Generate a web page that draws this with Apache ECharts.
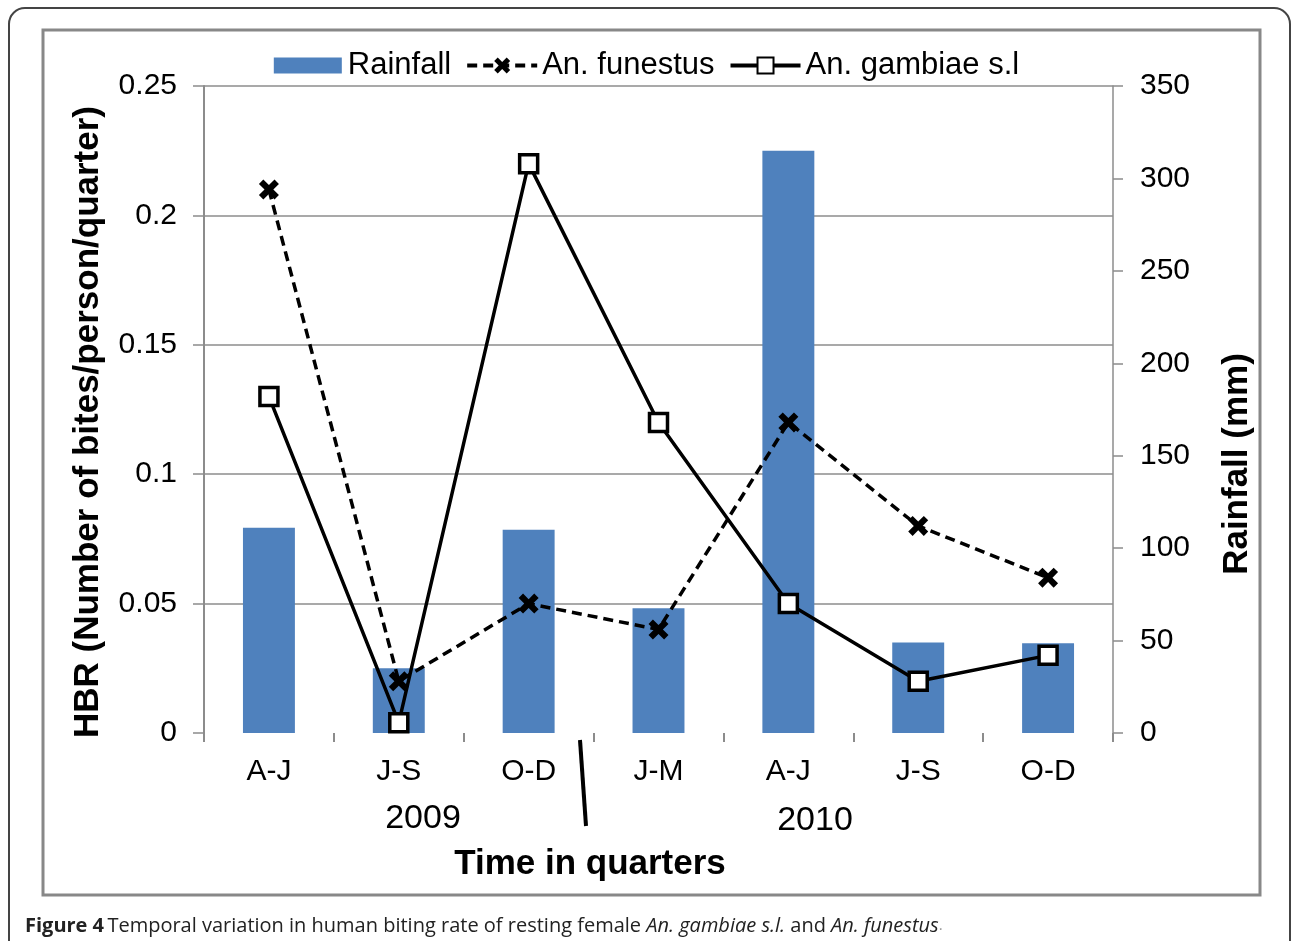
<!DOCTYPE html>
<html>
<head>
<meta charset="utf-8">
<script src="https://cdn.jsdelivr.net/npm/echarts@6/dist/echarts.min.js"></script>
<style>
html,body{margin:0;padding:0;background:#fff;}
#chart{width:1293px;height:941px;}
</style>
</head>
<body>
<div id="chart"></div>
<script>
const categories = ['A-J', 'J-S', 'O-D', 'J-M', 'A-J', 'J-S', 'O-D'];
const yearLabels = ['2009', '2010'];
const rainfall = [111, 35, 110, 67.5, 315, 49, 48.5];
const funestus = [0.21, 0.02, 0.05, 0.04, 0.12, 0.08, 0.06];
const gambiae = [0.13, 0.004, 0.22, 0.12, 0.05, 0.02, 0.03];
const hbrTicks = { min: 0, max: 0.25, interval: 0.05 };
const rainTicks = { min: 0, max: 350, interval: 50 };

const FONT = '"Liberation Sans", Arial, sans-serif';
const GRAY = '#8c8c8c';
const crossPath = 'path://M0,2.2 L2.2,0 L5,2.8 L7.8,0 L10,2.2 L7.2,5 L10,7.8 L7.8,10 L5,7.2 L2.2,10 L0,7.8 L2.8,5 Z';
const rainIcon = 'path://M0,0 L0.05,0 L0,0.05 Z M0,20 L0.05,20 L0,19.95 Z M0,2 L68,2 L68,18 L0,18 Z';

const chart = echarts.init(document.getElementById('chart'), null, { renderer: 'canvas' });

const option = {
  backgroundColor: '#fff',
  animation: false,
  textStyle: { fontFamily: FONT },
  legend: {
    left: 'center',
    top: 45,
    itemGap: 14,
    itemWidth: 70,
    itemHeight: 20,
    textStyle: { fontSize: 31, color: '#000', fontFamily: FONT },
    data: [
      { name: 'Rainfall', icon: rainIcon },
      { name: 'An. funestus', lineStyle: { width: 4 } },
      { name: 'An. gambiae s.l', lineStyle: { width: 4 } }
    ]
  },
  grid: { left: 204, right: 180, top: 86, bottom: 208, containLabel: false },
  xAxis: {
    type: 'category',
    data: categories,
    axisLine: { show: false },
    axisTick: { show: true, interval: 0, length: 9, alignWithLabel: false, lineStyle: { color: GRAY, width: 2 } },
    axisLabel: { interval: 0, margin: 24, fontSize: 30, color: '#000', fontFamily: FONT },
    splitLine: { show: false }
  },
  yAxis: [
    {
      type: 'value',
      min: hbrTicks.min, max: hbrTicks.max, interval: hbrTicks.interval,
      position: 'left',
      axisLine: { show: true, lineStyle: { color: GRAY, width: 2 } },
      axisTick: { show: true, length: 11, lineStyle: { color: GRAY, width: 1.5 } },
      axisLabel: { margin: 27, fontSize: 30, color: '#000', fontFamily: FONT,
        formatter: v => String(+v.toFixed(2)) },
      splitLine: { show: true, lineStyle: { color: ['rgba(0,0,0,0)', GRAY, GRAY, GRAY, GRAY, GRAY], width: 1.5 } }
    },
    {
      type: 'value',
      min: rainTicks.min, max: rainTicks.max, interval: rainTicks.interval,
      position: 'right',
      axisLine: { show: true, lineStyle: { color: GRAY, width: 1.5 } },
      axisTick: { show: true, length: 10, lineStyle: { color: GRAY, width: 1.5 } },
      axisLabel: { margin: 27, fontSize: 30, color: '#000', fontFamily: FONT },
      splitLine: { show: false }
    }
  ],
  series: [
    {
      name: 'Rainfall',
      type: 'bar',
      yAxisIndex: 1,
      data: rainfall,
      barWidth: '40%',
      itemStyle: { color: '#4F81BD' },
      z: 1
    },
    {
      name: 'An. funestus',
      type: 'line',
      yAxisIndex: 0,
      data: funestus,
      symbol: crossPath,
      symbolSize: 20,
      itemStyle: { color: '#000', borderWidth: 0 },
      lineStyle: { color: '#000', width: 3.5, type: [10, 6] },
      z: 3
    },
    {
      name: 'An. gambiae s.l',
      type: 'line',
      yAxisIndex: 0,
      data: gambiae,
      symbol: 'rect',
      symbolSize: 18,
      itemStyle: { color: '#fff', borderColor: '#000', borderWidth: 3.5 },
      lineStyle: { color: '#000', width: 3.5 },
      z: 4
    }
  ],
  graphic: [
    { type: 'rect', shape: { x: 9, y: 8, width: 1281, height: 980, r: 16 },
      style: { fill: 'none', stroke: '#444', lineWidth: 2 }, z: -10, silent: true },
    { type: 'rect', shape: { x: 43, y: 30, width: 1217, height: 865 },
      style: { fill: 'none', stroke: '#888', lineWidth: 3 }, z: -10, silent: true },
    { type: 'line', shape: { x1: 580, y1: 740, x2: 586, y2: 826 },
      style: { stroke: '#000', lineWidth: 4 }, silent: true },
    { type: 'text', x: 423, y: 819, style: { text: yearLabels[0], font: '34px ' + FONT, fill: '#000', textAlign: 'center', textVerticalAlign: 'middle' } },
    { type: 'text', x: 815, y: 821, style: { text: yearLabels[1], font: '34px ' + FONT, fill: '#000', textAlign: 'center', textVerticalAlign: 'middle' } },
    { type: 'text', x: 590, y: 864, style: { text: 'Time in quarters', font: 'bold 35px ' + FONT, fill: '#000', textAlign: 'center', textVerticalAlign: 'middle' } },
    { type: 'text', x: 88, y: 422, rotation: Math.PI / 2,
      style: { text: 'HBR (Number of bites/person/quarter)', font: 'bold 35px ' + FONT, fill: '#000', textAlign: 'center', textVerticalAlign: 'middle' } },
    { type: 'text', x: 1237, y: 464, rotation: Math.PI / 2,
      style: { text: 'Rainfall (mm)', font: 'bold 35px ' + FONT, fill: '#000', textAlign: 'center', textVerticalAlign: 'middle' } },
    { type: 'text', x: 25, y: 926,
      style: {
        text: '{b|Figure 4} {r|Temporal variation in human biting rate of resting female }{i|An. gambiae s.l.}{r| and }{i|An. funestus}{g|.}',
        textVerticalAlign: 'middle',
        rich: {
          b: { font: 'bold 20px "Open Sans", sans-serif', fill: '#222' },
          r: { font: '20px "Open Sans", sans-serif', fill: '#222' },
          i: { font: 'italic 20px "Open Sans", sans-serif', fill: '#222' },
          g: { font: '15px "Open Sans", sans-serif', fill: '#999' }
        }
      } }
  ]
};
chart.setOption(option);
</script>
</body>
</html>
